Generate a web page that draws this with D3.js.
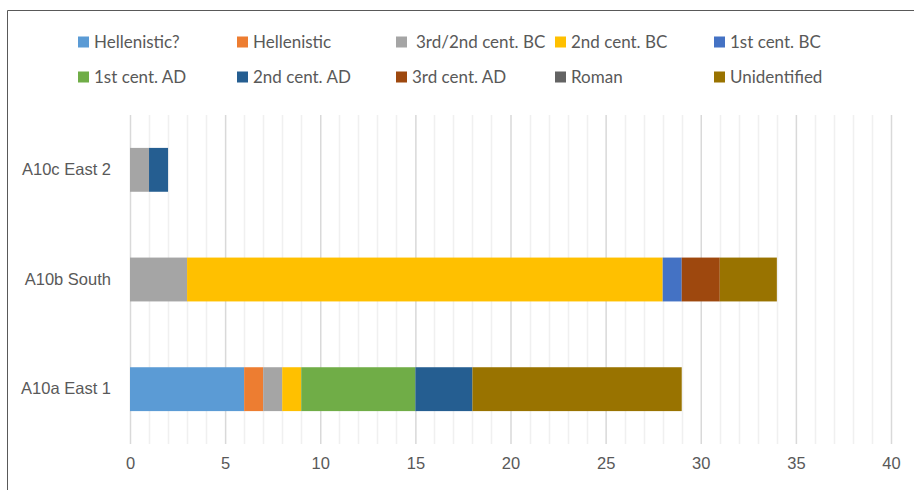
<!DOCTYPE html>
<html>
<head>
<meta charset="utf-8">
<script src="https://cdn.jsdelivr.net/npm/d3@7"></script>
<style>
  html, body { margin: 0; padding: 0; background: #fff; }
  svg { display: block; font-family: Lato, "Open Sans", sans-serif; }
</style>
</head>
<body>
<svg id="chart" width="914" height="490"></svg>
<script>
// Sites, top to bottom
const sites = ["A10c East 2", "A10b South", "A10a East 1"];

// Dating periods (stack order, left to right)
const periods = ["Hellenistic?", "Hellenistic", "3rd/2nd cent. BC", "2nd cent. BC", "1st cent. BC",
                 "1st cent. AD", "2nd cent. AD", "3rd cent. AD", "Roman", "Unidentified"];
const periodColors = ["#5B9BD5", "#ED7D31", "#A5A5A5", "#FFC000", "#4472C4",
                      "#70AD47", "#255E91", "#9E480E", "#636363", "#997300"];

// Counts per period for each site (same order as periods)
const eastTwo   = [0, 0, 1, 0, 0, 0, 1, 0, 0, 0];
const south     = [0, 0, 3, 25, 1, 0, 0, 2, 0, 3];
const eastOne   = [6, 1, 1, 1, 0, 6, 3, 0, 0, 11];

const xTicks = [0, 5, 10, 15, 20, 25, 30, 35, 40];

const rows = [eastTwo, south, eastOne].map((vals, i) => {
  const r = { site: sites[i] };
  periods.forEach((p, j) => r[p] = vals[j]);
  return r;
});

const svg = d3.select("#chart");
const plot = { left: 130, right: 891, top: 115, bottom: 444 };

const x = d3.scaleLinear().domain([0, 40]).range([plot.left, plot.right]);
const y = d3.scaleBand().domain(sites).range([plot.top, plot.bottom])
  .paddingInner(0.6).paddingOuter(0.3);
const color = d3.scaleOrdinal().domain(periods).range(periodColors);

// Outer frame (top and left edges)
svg.append("line").attr("x1", 7.5).attr("x2", 914).attr("y1", 10.5).attr("y2", 10.5)
  .attr("stroke", "#595959").attr("stroke-width", 1);
svg.append("line").attr("x1", 7.5).attr("x2", 7.5).attr("y1", 10.5).attr("y2", 490)
  .attr("stroke", "#595959").attr("stroke-width", 1);

// Minor gridlines every unit
svg.append("g").selectAll("line")
  .data(d3.range(0, 41).filter(v => v % 5 !== 0))
  .join("line")
  .attr("x1", d => Math.round(x(d)) + 0.5).attr("x2", d => Math.round(x(d)) + 0.5)
  .attr("y1", plot.top).attr("y2", plot.bottom)
  .attr("stroke", "#f0f0f0").attr("stroke-width", 1.5);

// Major gridlines + tick labels via axis
const xAxis = d3.axisBottom(x).tickValues(xTicks).tickSize(-(plot.bottom - plot.top)).tickPadding(13);
const gx = svg.append("g").attr("transform", `translate(0,${plot.bottom})`).call(xAxis);
gx.select(".domain").remove();
gx.selectAll(".tick line").attr("stroke", "#d9d9d9").attr("stroke-width", 1.5);
gx.selectAll(".tick text").attr("fill", "#595959").style("font-size", "16.5px");

// Stacked bars
const stack = d3.stack().keys(periods)(rows);
svg.append("g").selectAll("g")
  .data(stack).join("g")
  .attr("fill", d => color(d.key))
  .selectAll("rect")
  .data(d => d.filter(s => s[1] - s[0] > 0))
  .join("rect")
  .attr("x", d => x(d[0]))
  .attr("width", d => x(d[1]) - x(d[0]))
  .attr("y", d => y(d.data.site))
  .attr("height", y.bandwidth());

// Category axis labels
const yAxis = d3.axisLeft(y).tickSize(0).tickPadding(19);
const gy = svg.append("g").attr("transform", `translate(${plot.left},0)`).call(yAxis);
gy.select(".domain").remove();
gy.selectAll(".tick text").attr("fill", "#595959").style("font-size", "16.5px");

// Legend: two rows of five
const legend = svg.append("g");
const colX = [78, 237, 396, 555, 714];
const rowY = [42, 77];
const item = legend.selectAll("g").data(periods).join("g")
  .attr("transform", (d, i) => `translate(${colX[i % 5]},${rowY[Math.floor(i / 5)]})`);
item.append("rect").attr("x", 0).attr("y", -5.5).attr("width", 11).attr("height", 11)
  .attr("fill", d => color(d));
item.append("text").attr("x", d => d === "3rd/2nd cent. BC" ? 20 : 16).attr("y", 0).attr("dy", "0.35em")
  .attr("fill", "#595959").style("font-size", "17px").text(d => d);
</script>
</body>
</html>
